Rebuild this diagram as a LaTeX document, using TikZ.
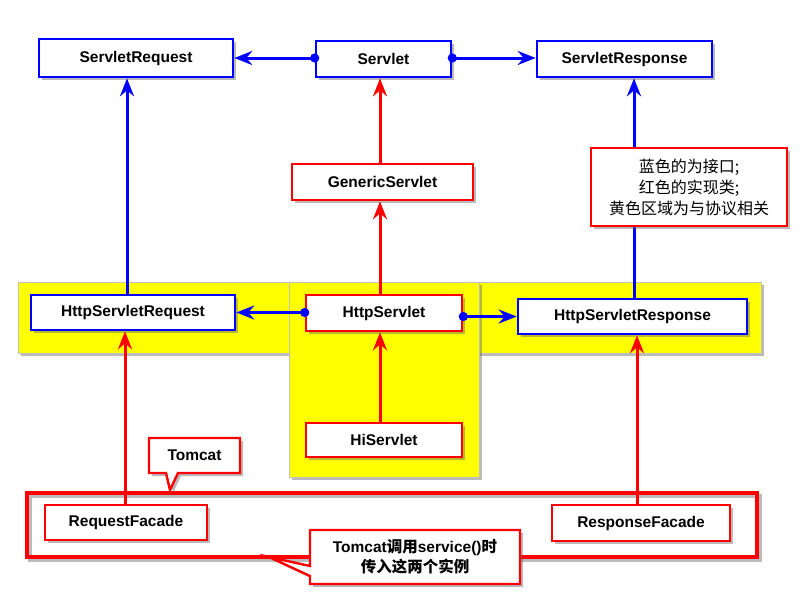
\documentclass[tikz,border=0pt]{standalone}
\usepackage{fontspec}
\setmainfont{Liberation Sans}
\newfontfamily\cjk{Noto Sans CJK SC}
\usetikzlibrary{arrows.meta,shadows}
\definecolor{pblue}{RGB}{0,0,255}
\definecolor{pred}{RGB}{255,0,0}
\definecolor{pyellow}{RGB}{255,255,0}
\tikzset{
  shad/.style={drop shadow={shadow xshift=3pt,shadow yshift=-3pt,opacity=0.45,fill=black!60}},
  boxbase/.style={fill=white,line width=2.6pt,inner sep=0pt,font=\fontsize{15.5}{18}\selectfont\bfseries,shad},
  bbox/.style={boxbase,draw=pblue},
  rbox/.style={boxbase,draw=pred},
  bline/.style={draw=pblue,line width=3pt},
  rline/.style={draw=pred,line width=3pt},
  tipS/.style={-{Stealth[length=18pt,width=14pt,inset=6pt]}},
  dotS/.style={{Circle[length=9pt]}-{Stealth[length=18pt,width=14pt,inset=6pt]},shorten <=-4.5pt},
  yel/.style={fill=pyellow,draw=black!25,line width=0.5pt,shad},
  callout/.style={fill=white,draw=pred,line width=2.4pt,line join=miter,shad},
}
\begin{document}
\begin{tikzpicture}[x=1pt,y=-1pt]
\useasboundingbox (0,0) rectangle (800,600);
% yellow regions
\path[yel] (18,282) rectangle (761,353);
\path[yel] (289,282) rectangle (479,477);
% big red Tomcat box (outline shadow, then outline)
\draw[black!60,opacity=0.45,line width=3.6pt] (30,496) rectangle (760,560);
\draw[pred,line width=3.6pt] (27,493) rectangle (757,557);
% nodes
\node[bbox,minimum width=194pt,minimum height=38pt] (sreq) at (136,58) {ServletRequest};
\node[bbox,minimum width=135pt,minimum height=36pt] (servlet) at (383.5,59) {Servlet};
\node[bbox,minimum width=175pt,minimum height=36pt] (sresp) at (624.5,59) {ServletResponse};
\node[rbox,minimum width=181pt,minimum height=36pt] (generic) at (382.5,182) {GenericServlet};
\node[bbox,minimum width=204pt,minimum height=35pt] (hreq) at (133,312.5) {HttpServletRequest};
\node[rbox,minimum width=156pt,minimum height=36pt] (http) at (384,313) {HttpServlet};
\node[bbox,minimum width=229pt,minimum height=35pt] (hresp) at (632.5,316.5) {HttpServletResponse};
\node[rbox,minimum width=156pt,minimum height=34pt] (hi) at (384,440) {HiServlet};
\node[rbox,minimum width=162pt,minimum height=35pt] (reqf) at (126,522.5) {RequestFacade};
\node[rbox,minimum width=178pt,minimum height=36pt] (respf) at (641,523) {ResponseFacade};
% connectors
\draw[bline,dotS] (servlet.west |- sreq.east) -- (sreq.east);
\draw[bline,dotS] (servlet.east |- sreq.east) -- (sresp.west |- sreq.east);
\draw[rline,tipS] (380,0 |- generic.north) -- (380,0 |- servlet.south);
\draw[rline,tipS] (380,0 |- http.north) -- (380,0 |- generic.south);
\draw[bline,tipS] (127,0 |- hreq.north) -- (127,0 |- sreq.south);
\draw[bline,tipS] (634,0 |- hresp.north) -- (634,0 |- sresp.south);
\draw[bline,dotS] (http.west |- hreq.east) -- (hreq.east);
\draw[bline,dotS] (http.east |- hresp.west) -- (hresp.west);
\draw[rline,tipS] (380,0 |- hi.north) -- (380,0 |- http.south);
\draw[rline,tipS] (125,0 |- reqf.north) -- (125,0 |- hreq.south);
\draw[rline,tipS] (637,0 |- respf.north) -- (637,0 |- hresp.south);
% note box
\node[rbox,minimum width=196pt,minimum height=78pt,font=\cjk\fontsize{16}{21}\selectfont,align=center] (note) at (689,187) {蓝色的为接口;\\红色的实现类;\\黄色区域为与协议相关};
% Tomcat callout
\path[callout] (149,438) -- (240,438) -- (240,473) -- (178,473) -- (170,490) -- (166,473) -- (149,473) -- cycle;
\node[font=\fontsize{15.5}{18}\selectfont\bfseries] (tomcat) at (194.5,455.5) {Tomcat};
% service callout
\path[callout] (310,530) -- (520,530) -- (520,584) -- (310,584) -- (310,576) -- (269,557) -- (310,566) -- cycle;
\node[font=\fontsize{15.5}{20}\selectfont\bfseries,align=center] (svc) at (415,557) {Tomcat{\cjk 调用}service(){\cjk 时}\\{\cjk 传入这两个实例}};
\end{tikzpicture}
\end{document}
